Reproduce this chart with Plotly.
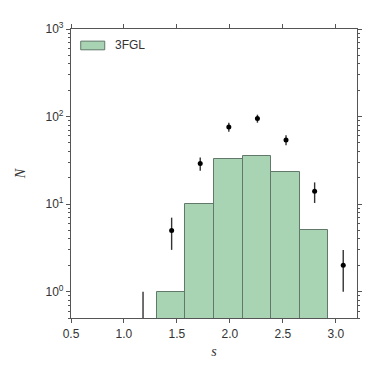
import plotly.graph_objects as go

# 3FGL histogram (bin edges and counts)
bin_edges = [1.31, 1.58, 1.85, 2.12, 2.39, 2.66, 2.93]
fgl_counts = [1, 10, 33, 35, 23, 5]

# data points with error bars (bin centres)
pt_s = [1.18, 1.45, 1.72, 1.99, 2.26, 2.53, 2.80, 3.07]
pt_n = [0, 5, 29, 76, 95, 54, 14, 2]
pt_err = [1, 2, 5, 9, 10, 7, 3.7, 1]

y_lo, y_hi = 0.5, 1000

centres = [(a + b) / 2 for a, b in zip(bin_edges[:-1], bin_edges[1:])]
widths = [b - a for a, b in zip(bin_edges[:-1], bin_edges[1:])]

FONT = "Liberation Sans, Arial, sans-serif"
GREEN = "#a9d4b3"
EDGE = "#62786a"

fig = go.Figure()
fig.add_trace(
    go.Bar(
        x=centres,
        y=fgl_counts,
        width=widths,
        name="3FGL",
        showlegend=False,
        marker={"color": GREEN, "line": {"color": EDGE, "width": 1}},
    )
)

# zero-count bins drawn as upper-limit lines from the bottom of the axis
lim_x, lim_y = [], []
for s, n, e in zip(pt_s, pt_n, pt_err):
    if n == 0:
        lim_x += [s, s, None]
        lim_y += [y_lo, n + e, None]
fig.add_trace(
    go.Scatter(
        x=lim_x, y=lim_y, mode="lines", showlegend=False,
        line={"color": "#222222", "width": 1.3}, hoverinfo="skip",
    )
)

det = [(s, n, e) for s, n, e in zip(pt_s, pt_n, pt_err) if n > 0]
fig.add_trace(
    go.Scatter(
        x=[d[0] for d in det],
        y=[d[1] for d in det],
        mode="markers",
        showlegend=False,
        marker={"color": "black", "size": 5},
        error_y={
            "type": "data",
            "array": [d[2] for d in det],
            "color": "#333333",
            "thickness": 1.4,
            "width": 0,
        },
    )
)

axis_common = {
    "showgrid": False,
    "zeroline": False,
    "showline": True,
    "linecolor": "#555555",
    "linewidth": 1.2,
    "mirror": "allticks",
    "ticks": "outside",
    "tickcolor": "#555555",
    "ticklen": 4,
    "tickfont": {"family": FONT, "size": 12, "color": "#333333"},
}

fig.update_xaxes(
    **axis_common,
    range=[0.5, 3.2],
    tickvals=[0.5, 1.0, 1.5, 2.0, 2.5, 3.0],
    ticktext=["0.5", "1.0", "1.5", "2.0", "2.5", "3.0"],
    title={"text": "<i>s</i>", "font": {"family": "Liberation Serif, serif", "size": 14, "color": "#333333"}, "standoff": 6},
)
fig.update_yaxes(
    **axis_common,
    type="log",
    range=[-0.301, 3],
    tickvals=[1, 10, 100, 1000],
    ticktext=["10<sup>0</sup>", "10<sup>1</sup>", "10<sup>2</sup>", "10<sup>3</sup>"],
    minor={"ticks": "outside", "ticklen": 2, "tickcolor": "#555555", "dtick": "D1", "showgrid": False},
    title={"text": "<i>N</i>", "font": {"family": "Liberation Serif, serif", "size": 14, "color": "#333333"}, "standoff": 16},
)

# legend drawn as a patch + label to get the wide matplotlib-style swatch
fig.add_shape(
    type="rect", xref="paper", yref="paper",
    x0=0.034, x1=0.118, y0=0.928, y1=0.958,
    fillcolor=GREEN, line={"color": EDGE, "width": 1},
)
fig.add_annotation(
    text="3FGL", xref="paper", yref="paper", x=0.148, y=0.943,
    xanchor="left", yanchor="middle", showarrow=False,
    font={"family": FONT, "size": 12, "color": "#333333"},
)

fig.update_layout(
    width=366,
    height=366,
    margin={"l": 55, "r": 15, "t": 12, "b": 56},
    paper_bgcolor="white",
    plot_bgcolor="white",
    bargap=0,
    showlegend=False,
)

fig.write_html("out.html")
